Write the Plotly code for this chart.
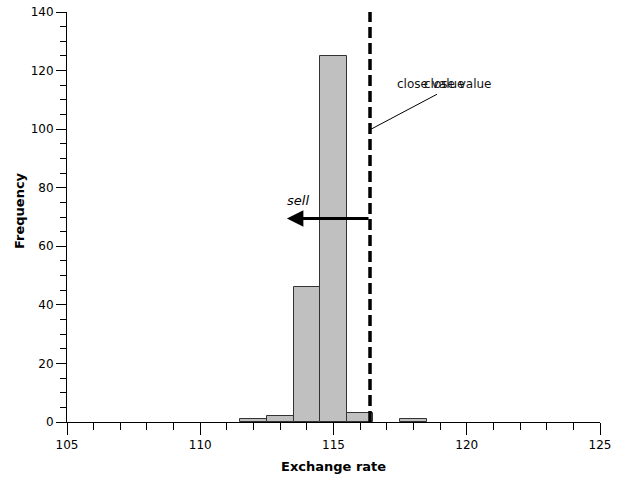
import plotly.graph_objects as go

bin_centers = [112, 113, 114, 115, 116, 118]
counts = [1, 2, 46, 125, 3, 1]
close_value = 116.37
arrow_y = 69.5
arrow_tip = 113.25
x_ticks = [105, 110, 115, 120, 125]
y_ticks = [0, 20, 40, 60, 80, 100, 120, 140]
label_x = [117.3, 118.32]

FONT = "DejaVu Sans"

fig = go.Figure()
fig.add_trace(go.Bar(
    x=bin_centers, y=counts, width=1,
    marker=dict(color="#c0c0c0", line=dict(color="#333333", width=1)),
    showlegend=False,
))

# dashed close-value line
fig.add_shape(type="line", x0=close_value, x1=close_value, y0=0, y1=140,
              xref="x", yref="y", line=dict(color="black", width=3.5, dash="11px,5px"))

# leader line to label
fig.add_shape(type="line", x0=close_value, y0=99.8, x1=118.88, y1=111.9,
              xref="x", yref="y", line=dict(color="black", width=1))

# overlapping labels
for xv in label_x:
    fig.add_annotation(x=xv, y=115.4, xref="x", yref="y", text="close value",
                       showarrow=False, xanchor="left", yanchor="middle",
                       font=dict(family=FONT, size=12, color="#111111"))

# sell arrow
fig.add_annotation(x=arrow_tip, y=arrow_y, ax=close_value, ay=arrow_y,
                   xref="x", yref="y", axref="x", ayref="y", text="",
                   showarrow=True, arrowhead=2, arrowsize=1.1, arrowwidth=3,
                   arrowcolor="black")
fig.add_annotation(x=113.65, y=75.8, xref="x", yref="y", text="<i>sell</i>",
                   showarrow=False, font=dict(family=FONT, size=13, color="black"))

# axis titles (pixel positions converted to paper coords below)
pw, ph = 621 - 67 - 21, 479 - 12 - 57
fig.add_annotation(x=(333 - 67) / pw, y=(479 - 57 - 466) / ph, xref="paper", yref="paper",
                   text="<b>Exchange rate</b>", xanchor="center", yanchor="middle",
                   showarrow=False, font=dict(family=FONT, size=13, color="black"))
fig.add_annotation(x=(19 - 67) / pw, y=(479 - 57 - 211) / ph, xref="paper", yref="paper",
                   text="<b>Frequency</b>", textangle=-90, xanchor="center", yanchor="middle",
                   showarrow=False, font=dict(family=FONT, size=13, color="black"))

fig.update_layout(
    width=621, height=479,
    margin=dict(l=67, r=21, t=12, b=57),
    plot_bgcolor="white", paper_bgcolor="white",
    font=dict(family=FONT, size=12, color="black"),
    bargap=0,
)

fig.update_xaxes(
    range=[105, 125], showgrid=False, zeroline=False, automargin=False,
    showline=True, linecolor="black", linewidth=1,
    ticks="outside", tickvals=x_ticks, ticklen=12, tickcolor="black",
    minor=dict(ticks="outside", dtick=1, ticklen=7, tickcolor="black", showgrid=False),
)
fig.update_yaxes(
    range=[0, 140], showgrid=False, zeroline=False, automargin=False,
    showline=True, linecolor="black", linewidth=1,
    ticks="outside", tickvals=y_ticks, ticklen=10, tickcolor="black",
    minor=dict(ticks="outside", dtick=5, ticklen=6, tickcolor="black", showgrid=False),
)

fig.write_html("out.html")
